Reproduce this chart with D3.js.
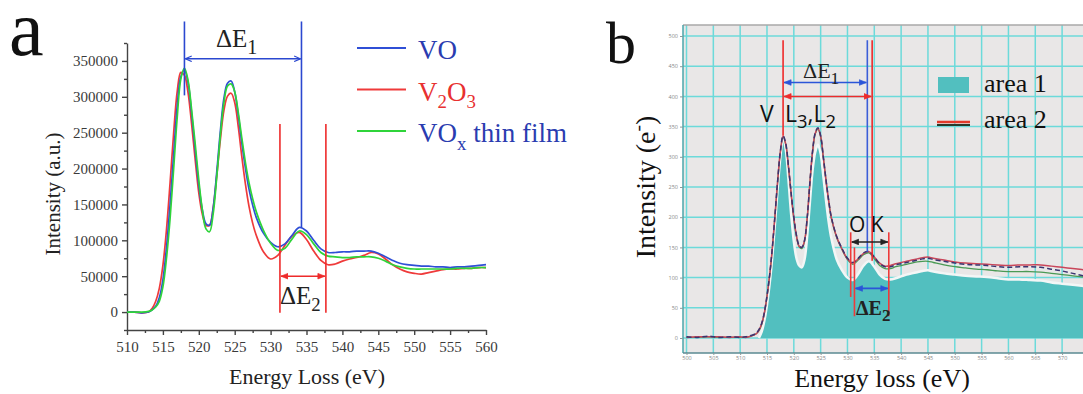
<!DOCTYPE html>
<html>
<head>
<meta charset="utf-8">
<script src="https://cdn.jsdelivr.net/npm/d3@7"></script>
<style>
  body { margin: 0; background: #fff; }
  svg { display: block; }
</style>
</head>
<body>
<svg id="chart" width="1083" height="394"></svg>
<script>
// ---- panel a data (energy in eV, intensity in a.u.) ----
const energyA = [510, 511, 512, 513, 513.5, 514, 514.5, 515, 515.5, 516, 516.5, 517, 517.5, 518, 518.5, 519, 519.5, 520,
  520.5, 521, 521.5, 522, 522.5, 523, 523.5, 524, 524.5, 525, 525.5, 526, 526.5, 527, 527.5, 528, 529, 530, 531, 532,
  533, 534, 535, 536, 537, 538, 539, 540, 541, 542, 543, 544, 545, 546, 547, 548, 549, 550, 551, 552, 553, 554, 555,
  556, 557, 558, 559, 560]
const vo = [0, 0, -1000, 0, 3000, 8000, 20000, 45000, 90000, 150000, 220000, 288000, 328000, 337000, 320000, 277000,
  226000, 177000, 142000, 123000, 121000, 145000, 195000, 252000, 298000, 319000, 322000, 307000, 274000, 235000,
  200000, 171000, 149000, 132000, 110000, 97000, 91000, 95000, 107000, 118000, 113000, 100000, 88000, 83000, 83000,
  84000, 84000, 85000, 85000, 85000, 82000, 77000, 72000, 68000, 66000, 65000, 64000, 64000, 63000, 63000, 62000,
  63000, 63000, 64000, 65000, 66000]
const v2o3 = [0, 0, -1000, 0, 5000, 15000, 33000, 65000, 115000, 180000, 250000, 308000, 334000, 330000, 306000, 262000,
  212000, 166000, 136000, 121000, 121000, 145000, 190000, 240000, 281000, 301000, 305000, 292000, 258000, 216000,
  178000, 147000, 124000, 107000, 84000, 74000, 79000, 93000, 106000, 111000, 101000, 85000, 72000, 66000, 67000,
  71000, 74000, 76000, 79000, 83000, 81000, 74000, 66000, 60000, 56000, 54000, 53000, 55000, 57000, 59000, 60000,
  60000, 61000, 61000, 62000, 62000]
const voxFilm = [0, 0, 0, 1000, 3000, 7000, 15000, 35000, 75000, 130000, 200000, 272000, 325000, 340000, 323000, 282000,
  234000, 184000, 142000, 116000, 112000, 137000, 188000, 246000, 292000, 315000, 318000, 307000, 278000, 242000,
  208000, 180000, 158000, 140000, 114000, 96000, 86000, 89000, 102000, 113000, 108000, 95000, 83000, 78000, 77000,
  76000, 76000, 77000, 77000, 77000, 75000, 71000, 66000, 63000, 61000, 60000, 60000, 60000, 60000, 60000, 60000,
  61000, 61000, 61000, 62000, 62000]
const ticksA_x = [510, 515, 520, 525, 530, 535, 540, 545, 550, 555, 560]
const ticksA_y = [0, 50000, 100000, 150000, 200000, 250000, 300000, 350000]
const deltaE1A = [518, 534.3]
const deltaE2A = [531.3, 537.7]

// ---- panel b data (energy in eV, intensity in e-) ----
const energyB = [500, 502, 504, 506, 508, 510, 511, 512, 513, 513.5, 514, 514.5, 515, 515.5, 516, 516.5, 517, 517.5,
  518, 518.5, 519, 519.5, 520, 520.5, 521, 521.5, 522, 522.5, 523, 523.5, 524, 524.5, 525, 525.5, 526, 526.5, 527,
  528, 529, 530, 531, 532, 533, 534, 535, 536, 537, 538, 539, 540, 541, 542, 543, 544, 545, 546, 548, 550, 552, 554,
  556, 558, 560, 562, 564, 566, 568, 570, 572, 574, 576]
const area1 = [0, 0, 0, 0, 0, 0, 0, 0, 0, 0, 10, 28, 55, 90, 135, 190, 248, 300, 332, 312, 262, 205, 160, 132, 120, 117,
  130, 170, 225, 278, 308, 320, 305, 268, 228, 192, 165, 130, 112, 100, 96, 106, 120, 127, 118, 105, 98, 97, 99, 102,
  105, 107, 109, 111, 112, 110, 107, 105, 103, 102, 101, 99, 97, 97, 96, 95, 92, 90, 88, 86, 84]
const area2Dark = [2, 1, 3, 1, 2, 1, 2, 4, 8, 14, 24, 42, 70, 105, 150, 205, 262, 310, 335, 322, 285, 240, 200, 170, 153,
  150, 162, 200, 258, 310, 340, 348, 335, 300, 262, 228, 200, 168, 148, 132, 125, 132, 141, 143, 134, 123, 118, 118,
  121, 123, 125, 127, 129, 131, 132, 130, 127, 124, 122, 121, 120, 118, 117, 118, 118, 117, 114, 111, 107, 103, 100]
const area2Red = [1, 2, 2, 2, 1, 2, 1, 3, 7, 13, 23, 41, 69, 104, 149, 204, 261, 309, 334, 321, 284, 239, 199, 169, 152,
  150, 161, 199, 257, 309, 339, 347, 334, 299, 261, 227, 199, 167, 147, 131, 124, 131, 140, 143, 134, 124, 119, 120,
  123, 125, 127, 129, 131, 133, 134, 132, 129, 126, 124, 123, 122, 121, 120, 121, 121, 121, 119, 117, 115, 113, 111]
const area2Green = [1, 1, 2, 1, 1, 1, 1, 3, 7, 12, 22, 40, 68, 103, 148, 203, 260, 308, 333, 320, 283, 238, 198, 168, 151,
  148, 160, 198, 256, 308, 338, 346, 333, 298, 260, 226, 198, 166, 146, 130, 122, 129, 138, 141, 131, 120, 115, 115,
  118, 120, 122, 124, 126, 127, 127, 125, 121, 118, 116, 114, 113, 111, 110, 110, 110, 109, 107, 105, 103, 101, 99]
const ticksB_x = [500, 505, 510, 515, 520, 525, 530, 535, 540, 545, 550, 555, 560, 565, 570]
const ticksB_y = [0, 50, 100, 150, 200, 250, 300, 350, 400, 450, 500]
const edgeL3 = 518
const edgeOK = [533.7, 534.6]
const okWindow = [530.6, 537.7]
const deltaE2B = [531.3, 537.7]

const serif = '"Liberation Serif", "Times New Roman", serif'
const sans = '"Open Sans", "Noto Sans", sans-serif'

const svg = d3.select('#chart')
const defs = svg.append('defs')

function marker(id, color, open) {
  defs.append('marker')
    .attr('id', id)
    .attr('viewBox', '0 0 10 10')
    .attr('refX', 10).attr('refY', 5)
    .attr('markerWidth', 8).attr('markerHeight', 7)
    .attr('markerUnits', 'userSpaceOnUse')
    .attr('orient', 'auto-start-reverse')
    .append('path')
      .attr('d', open ? 'M1,1 L10,5 L1,9' : 'M0,1 L10,5 L0,9 Z')
      .attr('fill', open ? 'none' : color)
      .attr('stroke', color)
      .attr('stroke-width', open ? 1.6 : 1)
}
marker('arrBlueOpen', '#2b48d0', true)
marker('arrRed', '#ee2b2b', false)
marker('arrBlue', '#2b55d8', false)
marker('arrBlack', '#222', false)

function hArrow(g, x1, x2, y, color, id, w) {
  g.append('line')
    .attr('x1', x1).attr('x2', x2).attr('y1', y).attr('y2', y)
    .attr('stroke', color).attr('stroke-width', w || 1.6)
    .attr('marker-start', `url(#${id})`)
    .attr('marker-end', `url(#${id})`)
}

function vLine(g, x, y1, y2, color, w) {
  g.append('line')
    .attr('x1', x).attr('x2', x).attr('y1', y1).attr('y2', y2)
    .attr('stroke', color).attr('stroke-width', w || 1.6)
}

// text with sub/superscripts: parts = [[string, 'sub' | 'sup' | null], ...]
function richText(g, x, y, parts, o) {
  const t = g.append('text')
    .attr('x', x).attr('y', y)
    .attr('font-family', o.family)
    .attr('font-size', o.size)
    .attr('font-weight', o.weight || 'normal')
    .attr('fill', o.color)
    .attr('text-anchor', o.anchor || 'start')
  const sub = o.subScale || 0.7
  let shift = 0
  parts.forEach(([s, kind]) => {
    const target = kind === 'sub' ? o.size * 0.28 : kind === 'sup' ? -o.size * 0.38 : 0
    t.append('tspan')
      .attr('dy', target - shift)
      .attr('font-size', kind ? o.size * sub : o.size)
      .text(s)
    shift = target
  })
  return t
}

// ================= panel a =================
const xa = d3.scaleLinear().domain([510, 560]).range([127, 486])
const ya = d3.scaleLinear().domain([-25000, 375000]).range([330, 43])
const ga = svg.append('g')

ga.append('text')
  .attr('x', 9).attr('y', 55)
  .attr('font-family', serif).attr('font-size', 78).attr('fill', '#111')
  .text('a')

ga.append('g').attr('transform', `translate(0,${ya.range()[0]})`)
  .call(d3.axisBottom(xa).tickValues(ticksA_x).tickSize(5).tickSizeOuter(0).tickPadding(6).tickFormat(d3.format('d')))
ga.append('g').attr('transform', `translate(0,${ya.range()[0]})`)
  .call(d3.axisBottom(xa).tickValues(d3.range(512.5, 560, 5)).tickSize(3).tickFormat(''))
  .call(g => g.select('.domain').remove())

ga.append('g').attr('transform', `translate(${xa.range()[0]},0)`)
  .call(d3.axisLeft(ya).tickValues(ticksA_y).tickSize(5).tickSizeOuter(0).tickPadding(4).tickFormat(d3.format('d')))
ga.append('g').attr('transform', `translate(${xa.range()[0]},0)`)
  .call(d3.axisLeft(ya).tickValues(d3.range(-25000, 375001, 50000)).tickSize(3).tickFormat(''))
  .call(g => g.select('.domain').remove())

ga.selectAll('.domain, .tick line').attr('stroke', '#444').attr('stroke-width', 1.4)
ga.selectAll('.tick text').attr('font-family', serif).attr('font-size', 15).attr('fill', '#3a3a3a')

ga.append('text')
  .attr('x', 307).attr('y', 384)
  .attr('text-anchor', 'middle')
  .attr('font-family', serif).attr('font-size', 22).attr('fill', '#222')
  .text('Energy Loss (eV)')
ga.append('text')
  .attr('transform', 'translate(60,194) rotate(-90)')
  .attr('text-anchor', 'middle')
  .attr('font-family', serif).attr('font-size', 21).attr('fill', '#222')
  .text('Intensity (a.u.)')

const lineA = d3.line().x(d => xa(d[0])).y(d => ya(d[1])).curve(d3.curveCatmullRom.alpha(0.5))
const seriesA = [
  { vals: v2o3, color: '#ef3a3a' },
  { vals: vo, color: '#2f4fd6' },
  { vals: voxFilm, color: '#2fd43a' },
]
seriesA.forEach(s => {
  ga.append('path')
    .datum(energyA.map((e, i) => [e, s.vals[i]]))
    .attr('d', lineA)
    .attr('fill', 'none')
    .attr('stroke', s.color)
    .attr('stroke-width', 1.7)
})

// ΔE1 marks
vLine(ga, xa(deltaE1A[0]), ya(405000), ya(302000), '#2b48d0')
vLine(ga, xa(deltaE1A[1]), ya(405000), ya(118000), '#2b48d0')
hArrow(ga, xa(deltaE1A[0]) + 1, xa(deltaE1A[1]) - 1, ya(353000), '#2b48d0', 'arrBlueOpen')
richText(ga, 216, 47, [['ΔE', null], ['1', 'sub']], { family: serif, size: 25, color: '#222', subScale: 0.8 })

// ΔE2 marks
vLine(ga, xa(deltaE2A[0]), ya(262000), ya(-1000), '#ee2b2b')
vLine(ga, xa(deltaE2A[1]), ya(262000), ya(-1000), '#ee2b2b')
hArrow(ga, xa(deltaE2A[0]) + 1, xa(deltaE2A[1]) - 1, ya(50000), '#ee2b2b', 'arrRed')
richText(ga, 280, 304, [['ΔE', null], ['2', 'sub']], { family: serif, size: 25, color: '#222', subScale: 0.75 })

// legend a
const legA = [
  { parts: [['VO', null]], color: '#2f4fd6', text: '#2a3cb0' },
  { parts: [['V', null], ['2', 'sub'], ['O', null], ['3', 'sub']], color: '#ef3a3a', text: '#e83030' },
  { parts: [['VO', null], ['x', 'sub'], [' thin film', null]], color: '#2fd43a', text: '#2a3cb0' },
]
legA.forEach((d, i) => {
  const y = 48 + i * 41.5
  ga.append('line').attr('x1', 357).attr('x2', 406).attr('y1', y).attr('y2', y)
    .attr('stroke', d.color).attr('stroke-width', 2)
  richText(ga, 418, y + 11, d.parts, { family: serif, size: 27, color: d.text })
})

// ================= panel b =================
const xb = d3.scaleLinear().domain([500, 570]).range([686.5, 1062.1])
const yb = d3.scaleLinear().domain([0, 500]).range([338, 36])
const gb = svg.append('g')
const plotB = { x: 683, y: 25, w: 420, h: 328 }

gb.append('text')
  .attr('x', 606).attr('y', 63)
  .attr('font-family', serif).attr('font-size', 60).attr('fill', '#111')
  .text('b')

defs.append('clipPath').attr('id', 'clipB')
  .append('rect').attr('x', plotB.x).attr('y', plotB.y).attr('width', plotB.w).attr('height', plotB.h)

gb.append('rect')
  .attr('x', plotB.x).attr('y', plotB.y).attr('width', plotB.w).attr('height', plotB.h)
  .attr('fill', '#e9e7e7')

const gridB = gb.append('g').attr('clip-path', 'url(#clipB)')
gridB.selectAll('line.h').data(ticksB_y).join('line')
  .attr('class', 'h')
  .attr('x1', plotB.x).attr('x2', plotB.x + plotB.w)
  .attr('y1', d => yb(d)).attr('y2', d => yb(d))
  .attr('stroke', '#6cdada').attr('stroke-width', 1.5)
gridB.selectAll('line.v').data(ticksB_x).join('line')
  .attr('class', 'v')
  .attr('x1', d => xb(d)).attr('x2', d => xb(d))
  .attr('y1', plotB.y).attr('y2', plotB.y + plotB.h)
  .attr('stroke', '#6cdada').attr('stroke-width', 1.5)

const dataB = energyB.map((e, i) => ({ e, a1: area1[i], dk: area2Dark[i], rd: area2Red[i], gr: area2Green[i] }))
const curveB = d3.curveCatmullRom.alpha(0.5)
const content = gb.append('g').attr('clip-path', 'url(#clipB)')

const area1Data = dataB.filter(d => d.e >= 513.5)
content.append('path')
  .datum(area1Data)
  .attr('d', d3.area().x(d => xb(d.e)).y0(yb(0)).y1(d => yb(d.a1)).curve(curveB))
  .attr('fill', '#52bfbf')
content.append('path')
  .datum(area1Data)
  .attr('d', d3.line().x(d => xb(d.e)).y(d => yb(d.a1)).curve(curveB))
  .attr('fill', 'none')
  .attr('stroke', '#f3f6f6')
  .attr('stroke-width', 2.5)

const lineB = key => d3.line().x(d => xb(d.e)).y(d => yb(d[key])).curve(curveB)
content.append('path').datum(dataB).attr('d', lineB('gr'))
  .attr('fill', 'none').attr('stroke', '#4a9a55').attr('stroke-width', 1.3)
content.append('path').datum(dataB).attr('d', lineB('rd'))
  .attr('fill', 'none').attr('stroke', '#c9465a').attr('stroke-width', 1.5)
content.append('path').datum(dataB).attr('d', lineB('dk'))
  .attr('fill', 'none').attr('stroke', '#3a3470').attr('stroke-width', 1.5)
  .attr('stroke-dasharray', '5,3')

// frame + axes b
gb.append('line').attr('x1', plotB.x).attr('x2', plotB.x + plotB.w).attr('y1', plotB.y).attr('y2', plotB.y)
  .attr('stroke', '#a9a9a9').attr('stroke-width', 1.5)
gb.append('line').attr('x1', plotB.x).attr('x2', plotB.x).attr('y1', plotB.y).attr('y2', plotB.y + plotB.h)
  .attr('stroke', '#4aa6aa').attr('stroke-width', 1.5)
gb.append('line').attr('x1', plotB.x).attr('x2', plotB.x + plotB.w).attr('y1', plotB.y + plotB.h).attr('y2', plotB.y + plotB.h)
  .attr('stroke', '#5a8a92').attr('stroke-width', 1.5)

gb.append('g').attr('transform', `translate(${plotB.x},0)`)
  .call(d3.axisLeft(yb).tickValues(ticksB_y).tickSize(3).tickPadding(2))
  .call(g => g.select('.domain').remove())
gb.append('g').attr('transform', `translate(0,${plotB.y + plotB.h})`)
  .call(d3.axisBottom(xb).tickValues(ticksB_x).tickSize(2).tickPadding(1).tickFormat(d3.format('d')))
  .call(g => g.select('.domain').remove())
gb.selectAll('.tick line').attr('stroke', '#8a9a9a')
gb.selectAll('.tick text').attr('font-family', sans).attr('font-size', 5.5).attr('fill', '#888')

gb.append('text')
  .attr('x', 882).attr('y', 387)
  .attr('text-anchor', 'middle')
  .attr('font-family', serif).attr('font-size', 26).attr('fill', '#111')
  .text('Energy loss (eV)')
const ylabB = gb.append('g').attr('transform', 'translate(655,187) rotate(-90)')
richText(ylabB, 0, 0, [['Intensity (e', null], ['-', 'sup'], [')', null]],
  { family: serif, size: 28, color: '#111', anchor: 'middle' })

// annotations b
vLine(gb, xb(edgeL3), yb(493), yb(335), '#ee2b2b')
vLine(gb, xb(edgeOK[0]), yb(493), yb(143), '#3b5ed8')
vLine(gb, xb(edgeOK[1]), yb(493), yb(128), '#ee2b2b')
hArrow(gb, xb(edgeL3) + 1, xb(edgeOK[0]) - 1, yb(423), '#2b55d8', 'arrBlue', 1.5)
hArrow(gb, xb(edgeL3) + 1, xb(edgeOK[1]) - 1, yb(400), '#ee2b2b', 'arrRed', 1.5)
richText(gb, 803, 78, [['ΔE', null], ['1', 'sub']], { family: serif, size: 22, color: '#222', subScale: 0.8 })

gb.append('text').attr('x', 760).attr('y', 122)
  .attr('font-family', sans).attr('font-size', 23).attr('fill', '#111').text('V')
richText(gb, 785, 122, [['L', null], ['3', 'sub'], [',L', null], ['2', 'sub']],
  { family: sans, size: 23, color: '#111', subScale: 0.8 })

gb.append('text').attr('x', 849).attr('y', 232)
  .attr('font-family', sans).attr('font-size', 21).attr('fill', '#111').text('O K')
hArrow(gb, xb(okWindow[0]) + 1, xb(okWindow[1]) - 1, yb(159), '#222', 'arrBlack', 1.5)
vLine(gb, xb(okWindow[0]), yb(175), yb(68), '#ee3a3a')
vLine(gb, xb(deltaE2B[0]), yb(150), yb(36), '#ee3a3a')
vLine(gb, xb(okWindow[1]), yb(175), yb(36), '#ee3a3a')
hArrow(gb, xb(deltaE2B[0]) + 1, xb(deltaE2B[1]) - 1, yb(82), '#2b55d8', 'arrBlue', 1.8)
richText(gb, 856, 315, [['ΔE', null], ['2', 'sub']],
  { family: serif, size: 20, color: '#222', weight: 'bold', subScale: 0.85 })

// legend b
gb.append('rect').attr('x', 938).attr('y', 77).attr('width', 31).attr('height', 16).attr('fill', '#52bfbf')
gb.append('text').attr('x', 984).attr('y', 92)
  .attr('font-family', serif).attr('font-size', 26).attr('fill', '#111').text('area 1')
gb.append('line').attr('x1', 937).attr('x2', 970).attr('y1', 122).attr('y2', 122)
  .attr('stroke', '#e43a2a').attr('stroke-width', 2.5)
gb.append('line').attr('x1', 937).attr('x2', 970).attr('y1', 125).attr('y2', 125)
  .attr('stroke', '#2a3a2a').attr('stroke-width', 2)
gb.append('text').attr('x', 984).attr('y', 128)
  .attr('font-family', serif).attr('font-size', 26).attr('fill', '#111').text('area 2')
</script>
</body>
</html>
